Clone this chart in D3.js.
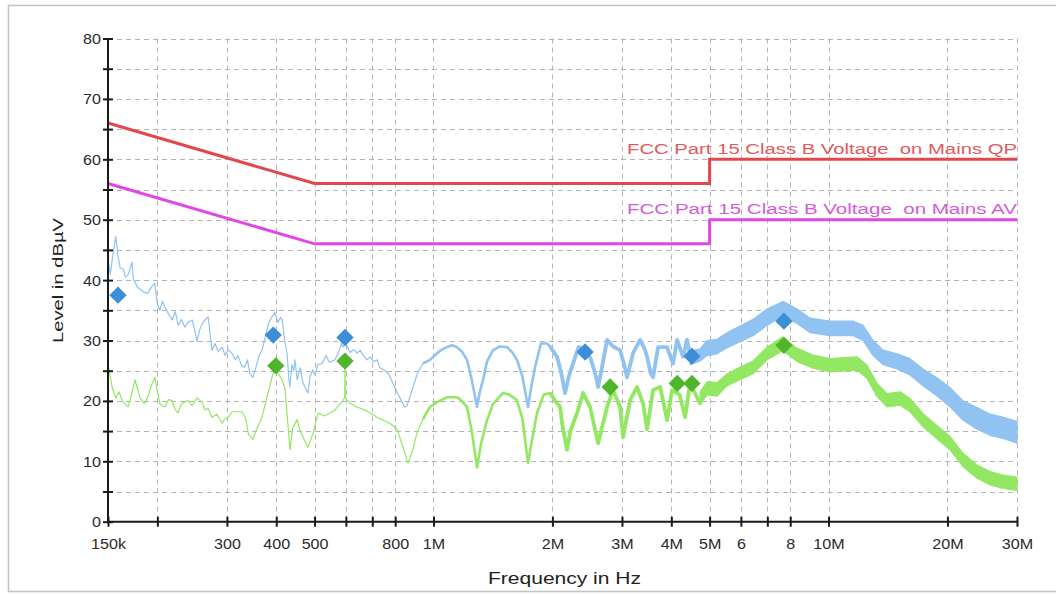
<!DOCTYPE html>
<html>
<head>
<meta charset="utf-8">
<script src="https://cdn.jsdelivr.net/npm/d3@7"></script>
<style>
  html, body { margin: 0; padding: 0; background: #fff; }
  svg { display: block; }
  text { font-family: 'Liberation Sans', Arial, sans-serif; }
</style>
</head>
<body>
<svg id="chart" width="1056" height="595"></svg>
<script>
// ---------------- DATA ----------------
// frequencies in MHz, levels in dBµV
const limitQP_f = [0.15, 0.5, 5, 5, 30];
const limitQP_v = [66, 56, 56, 60, 60];
const limitAV_f = [0.15, 0.5, 5, 5, 30];
const limitAV_v = [56, 46, 46, 50, 50];
const limitQPLabel = "FCC Part 15 Class B Voltage  on Mains QP";
const limitAVLabel = "FCC Part 15 Class B Voltage  on Mains AV";

// Peak trace (blue)
const peakF = [0.150,0.152,0.155,0.157,0.159,0.161,0.164,0.166,0.169,0.1725,0.174,0.1756,0.178,0.181,0.185,0.189,0.193,0.197,0.200,0.203,
  0.206,0.209,0.213,0.218,0.222,0.226,0.230,0.235,0.239,0.245,0.249,0.252,0.256,0.260,0.264,0.269,0.272,0.275,0.280,0.285,
  0.292,0.297,0.302,0.309,0.315,0.320,0.327,0.333,0.338,0.343,0.349,0.355,0.362,0.368,0.375,0.382,0.390,0.397,0.404,0.410,
  0.414,0.420,0.426,0.430,0.433,0.438,0.443,0.446,0.452,0.460,0.467,0.473,0.481,0.487,0.495,0.501,0.510,0.522,0.535,0.545,
  0.563,0.575,0.585,0.590,0.600,0.615,0.628,0.641,0.652,0.665,0.679,0.691,0.705,0.720,0.732,0.750,0.770,0.790,0.808,0.830,
  0.845,0.857,0.870,0.888,0.910,0.940,0.980,1.021,1.05,1.082,1.115,1.147,1.18,1.216,1.25,1.289,1.31,1.335,1.366,1.415,
  1.47,1.535,1.585,1.627,1.68,1.735,1.77,1.808,1.87,1.938,1.973,2.02,2.055,2.10,2.153,2.20,2.256,2.33,2.42,2.50,
  2.58,2.61,2.671,2.751,2.85,2.967,3.04,3.09,3.20,3.334,3.43,3.473,3.55,3.596,3.703,3.903,3.97,4.042,4.137,4.284,
  4.385,4.462,4.54];
const peakV = [43.5,41.0,45.0,47.2,44.0,42.0,41.8,40.5,41.0,43.0,40.0,39.7,38.8,38.5,38.0,37.8,38.8,39.5,36.0,35.0,
  36.5,35.6,34.5,33.4,34.8,32.5,33.5,32.2,33.0,33.4,31.5,29.8,31.8,32.8,33.4,33.9,31.0,28.4,29.5,28.2,
  28.9,27.5,28.5,27.9,26.8,27.5,25.8,25.6,26.8,24.5,23.9,25.5,27.5,28.4,30.5,32.8,33.9,34.6,33.0,33.8,
  33.4,30.0,27.9,24.0,22.3,26.0,25.0,26.8,23.5,25.5,23.0,22.3,21.3,24.0,25.1,24.3,26.0,26.2,27.5,26.4,
  26.8,28.0,29.5,28.9,29.5,28.0,28.5,27.9,28.4,27.5,26.8,27.3,26.5,26.8,25.5,25.1,24.5,22.9,21.5,20.0,
  19.0,19.2,20.5,22.3,24.5,26.2,26.8,27.9,28.5,28.9,29.2,28.9,28.2,26.8,23.5,19.0,21.5,23.5,26.5,28.4,
  29.0,28.9,28.0,26.8,24.0,19.0,22.5,25.6,29.5,29.5,29.0,28.0,27.3,25.0,21.3,24.0,26.2,28.9,28.6,27.0,
  24.0,22.3,25.6,30.1,29.0,28.4,26.0,23.9,27.9,30.1,28.5,27.3,24.5,23.9,28.9,28.9,27.5,26.2,30.1,27.3,
  30.1,27.5,27.0];
// dense part of peak trace drawn as band (low / high envelope)
const peakBandF  = [4.46,4.73,4.93,5.22,5.54,5.97,6.44,6.99,7.41,7.67,8.33,8.98,10.09,11.54,12.23,12.97,13.74,14.91,16.08,17.35,18.84,20.31,21.91,23.77,25.65,27.66,30.0];
const peakBandLo = [26.0,26.6,27.5,27.8,28.8,29.8,30.8,32.5,33.5,34.0,32.8,31.3,30.8,30.8,30.0,27.5,26.0,25.3,24.3,22.5,20.8,19.0,16.8,15.3,14.3,13.8,13.0];
const peakBandHi = [28.2,28.6,30.0,30.2,31.3,32.4,33.5,35.2,36.0,36.5,35.2,33.7,33.2,33.2,32.5,30.0,28.4,27.8,27.0,25.3,23.8,22.2,20.0,18.9,17.8,17.3,16.6];

// Average trace (green)
const avgF = [0.150,0.152,0.154,0.157,0.160,0.163,0.1686,0.172,0.1756,0.179,0.1808,0.1852,0.189,0.193,0.1972,0.200,0.203,0.2091,0.2134,0.2178,
  0.222,0.2256,0.230,0.2391,0.245,0.252,0.2595,0.264,0.2687,0.2751,0.283,0.2916,0.296,0.302,0.309,0.3276,0.335,0.340,0.3493,0.355,
  0.3681,0.380,0.3902,0.397,0.405,0.4137,0.4209,0.4333,0.440,0.4515,0.460,0.4676,0.4813,0.4956,0.5103,0.530,0.5634,0.580,0.590,0.596,
  0.597,0.598,0.615,0.6405,0.68,0.7195,0.776,0.8087,0.8375,0.862,0.8877,0.9087,0.941,0.98,1.021,1.082,1.147,1.167,1.216,1.25,
  1.289,1.32,1.366,1.415,1.5,1.56,1.627,1.68,1.735,1.77,1.829,1.90,1.973,2.03,2.091,2.12,2.178,2.22,2.31,2.392,
  2.491,2.61,2.751,2.848,2.967,3.02,3.145,3.276,3.393,3.473,3.596,3.747,3.903,4.018,4.2,4.335,4.462,4.73,4.93];
const avgV = [26.2,24.0,22.0,20.5,21.5,20.0,19.0,21.0,23.5,21.5,20.5,19.6,20.5,22.5,23.9,21.5,19.5,19.0,20.2,20.1,
  18.5,18.0,19.5,20.1,19.2,20.5,19.8,18.5,18.8,17.3,17.8,16.3,17.0,17.3,18.2,18.2,17.0,14.5,13.6,15.0,
  17.3,21.0,23.9,25.6,24.5,23.5,22.0,11.9,15.5,16.9,15.0,14.0,12.3,14.6,18.0,17.5,18.5,19.5,20.1,20.5,
  26.0,20.5,19.6,19.0,18.3,17.3,16.3,15.3,12.3,9.7,12.0,14.8,17.0,19.0,19.8,20.6,20.6,20.3,19.0,15.0,
  9.0,13.0,16.8,19.5,21.3,21.0,20.1,17.0,9.7,13.0,18.0,21.0,21.3,20.1,19.0,16.0,11.9,15.0,18.0,21.3,
  19.0,13.0,19.0,21.8,19.0,14.0,20.1,22.3,19.6,15.3,21.8,22.3,16.8,21.8,21.0,17.3,22.9,19.6,22.1];
const avgBandF  = [4.73,4.93,5.22,5.54,5.97,6.44,6.99,7.67,8.33,9.14,10.09,11.81,12.52,13.27,14.07,15.18,16.08,17.35,18.84,20.31,21.91,23.77,25.65,27.66,30.0];
const avgBandLo = [19.5,21.0,20.8,22.5,23.5,24.5,26.8,28.3,26.5,25.4,24.8,25.1,23.7,20.7,19.0,19.3,18.2,15.7,13.7,11.9,9.1,7.2,6.1,5.5,5.2];
const avgBandHi = [21.5,23.2,23.0,24.5,25.6,26.6,28.9,30.6,28.7,27.6,27.0,27.3,25.9,22.9,21.2,21.5,20.4,17.9,15.9,14.1,11.3,9.4,8.3,7.7,7.4];

// Final measurement markers
const peakMarkF = [0.159, 0.393, 0.597, 2.42, 4.51, 7.71];
const peakMarkV = [37.5, 30.9, 30.5, 28.1, 27.4, 33.2];
const avgMarkF  = [0.399, 0.597, 2.80, 4.14, 4.51, 7.71];
const avgMarkV  = [25.8, 26.6, 22.3, 22.9, 22.9, 29.2];

// Axes
const xTickValues = [0.15,0.2,0.3,0.4,0.5,0.6,0.7,0.8,1,2,3,4,5,6,7,8,10,20,30];
const xLabelValues = [0.15,0.3,0.4,0.5,0.8,1,2,3,4,5,6,8,10,20,30];
const xLabelTexts  = ["150k","300","400","500","800","1M","2M","3M","4M","5M","6","8","10M","20M","30M"];
const yTickValues = [0,5,10,15,20,25,30,35,40,45,50,55,60,65,70,75,80];
const yLabelValues = [0,10,20,30,40,50,60,70,80];
const xTitle = "Frequency in Hz";
const yTitle = "Level in dBµV";

// ---------------- DRAW ----------------
const svg = d3.select("#chart");
const L = 108, R = 1017, T = 38.5, B = 521.7;
const x = d3.scaleLog().domain([0.15, 30]).range([L, R]);
const y = d3.scaleLinear().domain([0, 80]).range([B, T]);

// outer frame
svg.append("rect").attr("x", 8.5).attr("y", 5.5).attr("width", 1060).attr("height", 586)
  .attr("fill", "#fff").attr("stroke", "#c4c4c4").attr("stroke-width", 1.6);

// grid
const grid = svg.append("g").attr("stroke", "#b4b4b4").attr("stroke-width", 1).attr("stroke-dasharray", "5,4");
grid.selectAll("line.v").data(xTickValues.filter(d => d > 0.15)).join("line")
  .attr("x1", d => Math.round(x(d)) + 0.5).attr("x2", d => Math.round(x(d)) + 0.5)
  .attr("y1", T).attr("y2", B);
grid.selectAll("line.h").data(yTickValues.filter(d => d > 0)).join("line")
  .attr("x1", L).attr("x2", R)
  .attr("y1", d => Math.round(y(d)) + 0.5).attr("y2", d => Math.round(y(d)) + 0.5);

const zip = (a, b) => a.map((v, i) => [v, b[i]]);
const line = d3.line().x(d => x(d[0])).y(d => y(d[1]));
const band = d3.area().x(d => x(d[0])).y0(d => y(d[1])).y1(d => y(d[2]));

// limit lines
svg.append("path").attr("d", line(zip(limitQP_f, limitQP_v)))
  .attr("fill", "none").attr("stroke", "#e2474e").attr("stroke-width", 3);
svg.append("path").attr("d", line(zip(limitAV_f, limitAV_v)))
  .attr("fill", "none").attr("stroke", "#e246e6").attr("stroke-width", 3);

// trace drawing helper with widths per frequency range (style only)
function drawTrace(fs, vs, bf, blo, bhi, color) {
  const pts = zip(fs, vs);
  const segs = [[0, 0.95, 1.2], [0.95, 2.0, 2.6], [2.0, 100, 3.8]];
  segs.forEach(([a, b, w]) => {
    const sub = pts.filter((p, i) => {
      const prev = pts[i - 1], next = pts[i + 1];
      return (p[0] >= a && p[0] <= b) || (next && next[0] >= a && p[0] < a) || (prev && prev[0] <= b && p[0] > b);
    });
    svg.append("path").attr("d", line(sub)).attr("fill", "none")
      .attr("stroke", color).attr("stroke-width", w).attr("stroke-linejoin", "round");
  });
  const bd = bf.map((f, i) => [f, blo[i], bhi[i]]);
  svg.append("path").attr("d", band(bd)).attr("fill", color)
    .attr("stroke", color).attr("stroke-width", 1.2).attr("stroke-linejoin", "round");
}
drawTrace(peakF, peakV, peakBandF, peakBandLo, peakBandHi, "#90c2f2");
drawTrace(avgF, avgV, avgBandF, avgBandLo, avgBandHi, "#92e862");

// markers
const diamond = d3.symbol(d3.symbolSquare, 150);
svg.append("g").selectAll("path").data(zip(peakMarkF, peakMarkV)).join("path")
  .attr("d", diamond).attr("fill", "#3c8ed8")
  .attr("transform", d => `translate(${x(d[0])},${y(d[1])}) rotate(45)`);
svg.append("g").selectAll("path").data(zip(avgMarkF, avgMarkV)).join("path")
  .attr("d", diamond).attr("fill", "#4fb52c")
  .attr("transform", d => `translate(${x(d[0])},${y(d[1])}) rotate(45)`);

// limit labels
svg.append("text").attr("x", 627).attr("y", 153.5).attr("font-size", 15.5)
  .attr("fill", "#e25a5e").style("white-space", "pre")
  .attr("textLength", 390).attr("lengthAdjust", "spacingAndGlyphs").text(limitQPLabel);
svg.append("text").attr("x", 627).attr("y", 213.5).attr("font-size", 15.5)
  .attr("fill", "#d45cd8").style("white-space", "pre")
  .attr("textLength", 390).attr("lengthAdjust", "spacingAndGlyphs").text(limitAVLabel);

// y axis
const yAxis = svg.append("g").attr("transform", `translate(${L},0)`)
  .call(d3.axisLeft(y).tickValues(yTickValues).tickSize(0).tickFormat(d => yLabelValues.includes(d) ? d : ""));
yAxis.select(".domain").attr("stroke", "#1a1a1a").attr("stroke-width", 2).attr("d", `M0,${B}V${T}`);
yAxis.selectAll(".tick line").attr("x1", -5).attr("x2", 5).attr("stroke", "#1a1a1a").attr("stroke-width", 2);
yAxis.selectAll(".tick text").attr("x", 0).attr("dy", "0.35em")
  .attr("transform", "translate(-7,0) scale(1.15,1)")
  .attr("font-size", 14).attr("fill", "#2a2a2a").attr("font-family", "'Liberation Sans', Arial, sans-serif");

// x axis
const xAxis = svg.append("g").attr("transform", `translate(0,${B})`)
  .call(d3.axisBottom(x).tickValues(xTickValues).tickSize(0)
    .tickFormat(d => { const i = xLabelValues.indexOf(d); return i >= 0 ? xLabelTexts[i] : ""; }));
xAxis.select(".domain").attr("stroke", "#1a1a1a").attr("stroke-width", 2).attr("d", `M${L},0H${R}`);
xAxis.selectAll(".tick line").attr("y1", -5).attr("y2", 5).attr("stroke", "#1a1a1a").attr("stroke-width", 2);
xAxis.selectAll(".tick text").attr("y", 0).attr("dy", "0.71em")
  .attr("transform", "translate(0,17) scale(1.15,1)")
  .attr("font-size", 14).attr("fill", "#2a2a2a").attr("font-family", "'Liberation Sans', Arial, sans-serif");

// axis titles
svg.append("text").attr("x", 488).attr("y", 584).attr("font-size", 16).attr("fill", "#222")
  .attr("textLength", 153).attr("lengthAdjust", "spacingAndGlyphs").text(xTitle);
svg.append("text").attr("transform", "translate(63,343) rotate(-90)").attr("font-size", 15).attr("fill", "#222")
  .attr("textLength", 125).attr("lengthAdjust", "spacingAndGlyphs").text(yTitle);
</script>
</body>
</html>
